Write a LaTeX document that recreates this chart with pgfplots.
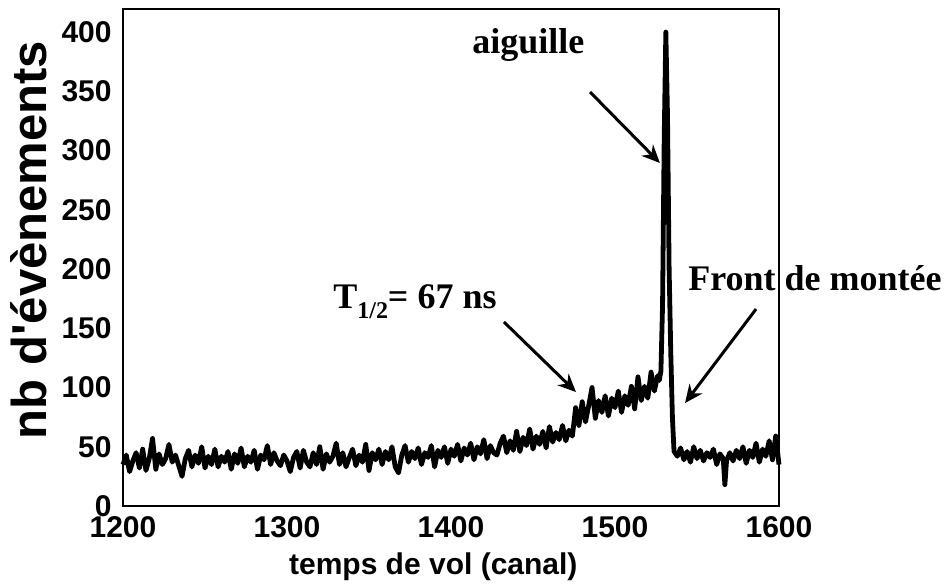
\documentclass[border=0pt]{standalone}
\usepackage{fontspec}
\setmainfont{Liberation Sans}
\newfontfamily\serifb{Liberation Serif}
\usepackage{pgfplots}
\pgfplotsset{compat=1.18}
\usetikzlibrary{arrows.meta}
\begin{document}
\begin{tikzpicture}
\begin{axis}[
  scale only axis, width=328pt, height=248.5pt,
  xmin=1200, xmax=1600, ymin=0, ymax=419.5,
  xtick={1200,1300,...,1600}, ytick={0,50,...,400},
  major tick length=0pt,
  axis line style={line width=1pt},
  /pgf/number format/assume math mode=true,
  /pgf/number format/1000 sep={},
  tick label style={font=\fontsize{15}{15}\selectfont\bfseries},
  xticklabel style={anchor=north, inner sep=0pt, yshift=-5pt},
  yticklabel style={anchor=east, inner sep=0pt, xshift=-5.5pt},
  clip=false,
  xlabel={temps de vol (canal)},
  ylabel={nb d\textquotesingle évènements},
  every axis x label/.style={at={(axis description cs:0.473,-0.1388)}, anchor=base, font=\fontsize{15}{15}\selectfont\bfseries},
  every axis y label/.style={at={(axis description cs:-0.1159,0.535)}, rotate=90, anchor=base, font=\fontsize{24.5}{24.5}\selectfont\bfseries},
]
\addplot[black, line width=2.4pt, line join=round] coordinates {
(1200,35)(1202,43)(1204,29)(1206,38)(1208,45)(1210,32)(1212,48)(1214,30)(1216,40)(1218,57)
(1220,31)(1222,44)(1224,35)(1226,40)(1228,52)(1230,37)(1232,43)(1234,34)(1236,25)(1238,40)
(1240,47)(1242,33)(1244,43)(1246,36)(1248,50)(1250,32)(1252,42)(1254,35)(1256,48)(1258,33)
(1260,42)(1262,37)(1264,46)(1266,31)(1268,44)(1270,36)(1272,49)(1274,33)(1276,42)(1278,37)
(1280,47)(1282,31)(1284,43)(1286,39)(1288,51)(1290,35)(1292,45)(1294,38)(1296,34)(1298,43)
(1300,38)(1302,29)(1304,41)(1306,46)(1308,32)(1310,47)(1312,37)(1314,33)(1316,45)(1318,35)
(1320,50)(1322,31)(1324,44)(1326,37)(1328,42)(1330,53)(1332,35)(1334,45)(1336,33)(1338,41)
(1340,48)(1342,34)(1344,43)(1346,37)(1348,52)(1350,30)(1352,45)(1354,39)(1356,48)(1358,35)
(1360,46)(1362,39)(1364,50)(1366,33)(1368,28)(1370,43)(1372,51)(1374,37)(1376,46)(1378,40)
(1380,49)(1382,35)(1384,45)(1386,41)(1388,51)(1390,33)(1392,47)(1394,41)(1396,50)(1398,36)
(1400,48)(1402,42)(1404,52)(1406,38)(1408,49)(1410,43)(1412,53)(1414,39)(1416,50)(1418,44)
(1420,56)(1422,40)(1424,51)(1426,45)(1428,43)(1430,53)(1432,59)(1434,45)(1436,55)(1438,47)
(1440,63)(1442,46)(1444,58)(1446,51)(1448,65)(1450,48)(1452,59)(1454,52)(1456,63)(1458,49)
(1460,67)(1462,54)(1464,62)(1466,56)(1468,68)(1470,55)(1472,64)(1474,59)(1476,83)(1478,68)
(1480,88)(1482,71)(1484,85)(1486,100)(1488,74)(1490,89)(1492,79)(1494,93)(1496,76)(1498,91)
(1500,83)(1502,97)(1504,79)(1506,93)(1508,85)(1510,101)(1512,82)(1514,109)(1516,89)(1518,101)
(1520,91)(1522,113)(1524,97)(1526,110)(1527,106)(1528,114)(1529,170)(1530,310)(1531,400)(1532,330)
(1533,200)(1534,130)(1535,75)(1536,46)(1538,42)(1540,49)(1542,39)(1544,46)(1546,37)(1548,50)
(1550,40)(1552,47)(1554,38)(1556,45)(1558,41)(1560,48)(1562,35)(1564,44)(1566,40)(1567,18)
(1568,38)(1570,45)(1572,38)(1574,47)(1576,40)(1578,50)(1580,36)(1582,47)(1584,41)(1586,53)
(1588,37)(1590,48)(1592,42)(1594,55)(1596,39)(1598,59)(1600,35)
};
\draw[line width=1.5pt, -{Stealth[length=9pt,width=8pt]}] (axis cs:1484.8,349.4) -- (axis cs:1527.4,289.5);
\draw[line width=1.5pt, -{Stealth[length=9pt,width=8pt]}] (axis cs:1432.3,155.3) -- (axis cs:1476.2,96.2);
\draw[line width=1.5pt, -{Stealth[length=9pt,width=8pt]}] (axis cs:1586,166.2) -- (axis cs:1542.7,86.9);
\node[anchor=base west, inner sep=0pt, font=\serifb\bfseries\fontsize{18}{18}\selectfont] at (axis cs:1412.8,382.3) {aiguille};
\node[anchor=base west, inner sep=0pt, font=\serifb\bfseries\fontsize{18}{18}\selectfont] at (axis cs:1328,167) {T\raisebox{-0.28em}{\fontsize{12}{12}\selectfont 1/2}= 67 ns};
\node[anchor=base west, inner sep=0pt, font=\serifb\bfseries\fontsize{18}{18}\selectfont] at (axis cs:1544.5,182.3) {Front de montée};
\end{axis}
\pgfresetboundingbox
\path ([shift={(-61.5pt,-39pt)}]current axis.south west) rectangle ([shift={(83.5pt,4.5pt)}]current axis.north east);
\end{tikzpicture}
\end{document}
